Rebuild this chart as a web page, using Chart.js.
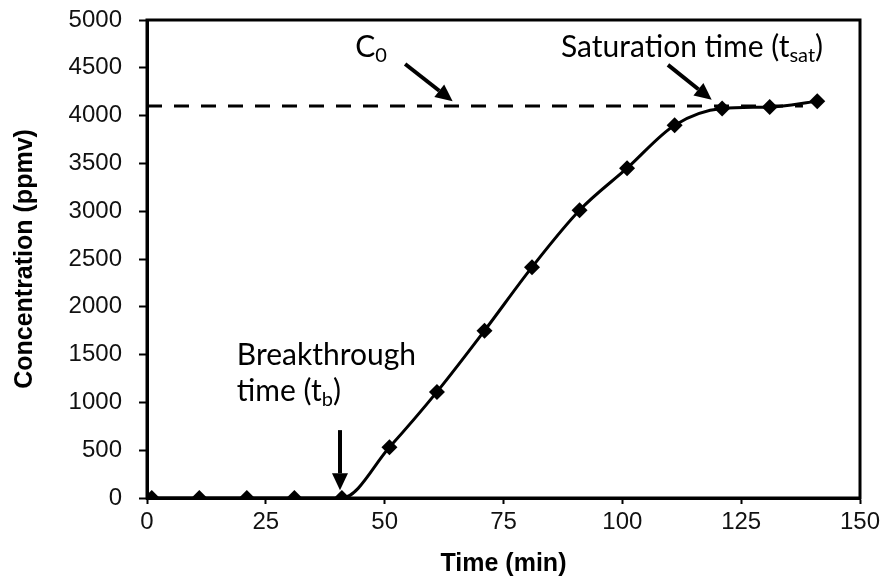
<!DOCTYPE html>
<html>
<head>
<meta charset="utf-8">
<script src="https://cdn.jsdelivr.net/npm/chart.js@4.4.1/dist/chart.umd.min.js"></script>
<style>
  body { margin: 0; background: #fff; }
  #wrap { width: 886px; height: 581px; }
</style>
</head>
<body>
<div id="wrap"><canvas id="myChart" width="886" height="581"></canvas></div>
<script>
// datos
const tiempo = [1, 11, 21, 31, 41, 51, 61, 71, 81, 91, 101, 111, 121, 131, 141];
const concentracion = [0, 0, 0, 0, 0, 530, 1110, 1750, 2415, 3010, 3450, 3900, 4075, 4090, 4150];
const c0Valor = 4100;
const c0Tiempo = [0, 138];
const xTicks = [0, 25, 50, 75, 100, 125, 150];
const yTicks = [0, 500, 1000, 1500, 2000, 2500, 3000, 3500, 4000, 4500, 5000];

const fuenteTexto = "Lato, 'Open Sans', sans-serif";
const fuenteEjes = "'Liberation Sans', Arial, sans-serif";

// dibuja flecha entre dos puntos en unidades de datos
const flecha = (ctx, sx, sy, x1, y1, x2, y2) => {
    const ax = sx.getPixelForValue(x1), ay = sy.getPixelForValue(y1);
    const bx = sx.getPixelForValue(x2), by = sy.getPixelForValue(y2);
    const ang = Math.atan2(by - ay, bx - ax);
    const largo = 17, ancho = 8;
    const hx = bx - Math.cos(ang) * largo, hy = by - Math.sin(ang) * largo;
    ctx.save();
    ctx.strokeStyle = "#000";
    ctx.fillStyle = "#000";
    ctx.lineWidth = 4;
    ctx.beginPath();
    ctx.moveTo(ax, ay);
    ctx.lineTo(hx, hy);
    ctx.stroke();
    ctx.beginPath();
    ctx.moveTo(bx, by);
    ctx.lineTo(hx + Math.sin(ang) * ancho, hy - Math.cos(ang) * ancho);
    ctx.lineTo(hx - Math.sin(ang) * ancho, hy + Math.cos(ang) * ancho);
    ctx.closePath();
    ctx.fill();
    ctx.restore();
}

// texto con subindice
const textoSub = (ctx, sx, sy, x, y, partes) => {
    let px = sx.getPixelForValue(x);
    const py = sy.getPixelForValue(y);
    ctx.save();
    ctx.fillStyle = "#000";
    ctx.textBaseline = "alphabetic";
    ctx.textAlign = "left";
    partes.forEach(p => {
        const tam = p.sub ? 20 : 30;
        ctx.font = `${tam}px ${fuenteTexto}`;
        ctx.fillText(p.t, px, p.sub ? py + 5 : py);
        px += ctx.measureText(p.t).width;
    });
    ctx.restore();
}

const anotaciones = {
    id: "anotaciones",
    afterDatasetsDraw(chart) {
        const ctx = chart.ctx;
        const sx = chart.scales.x, sy = chart.scales.y;
        textoSub(ctx, sx, sy, 43.8, 4613, [{t: "C"}, {t: "0", sub: true}]);
        flecha(ctx, sx, sy, 54.3, 4540, 64.3, 4150);
        textoSub(ctx, sx, sy, 87.1, 4613, [{t: "Saturation time (t"}, {t: "sat", sub: true}, {t: ")"}]);
        flecha(ctx, sx, sy, 109.6, 4530, 118.8, 4165);
        textoSub(ctx, sx, sy, 18.9, 1391, [{t: "Breakthrough"}]);
        textoSub(ctx, sx, sy, 18.9, 1015, [{t: "time (t"}, {t: "b", sub: true}, {t: ")"}]);
        flecha(ctx, sx, sy, 40.6, 710, 40.6, 80);
    },
    afterDraw(chart) {
        const a = chart.chartArea;
        const ctx = chart.ctx;
        ctx.save();
        ctx.strokeStyle = "#000";
        ctx.lineWidth = 3;
        ctx.strokeRect(a.left, a.top, a.right - a.left, a.bottom - a.top);
        ctx.restore();
    }
};

const config = {
    type: "line",
    data: {
        datasets: [
        {
            label: "C0",
            data: c0Tiempo.map(t => ({ x: t, y: c0Valor })),
            borderColor: "#000",
            borderWidth: 3,
            borderDash: [15, 12],
            pointRadius: 0
        },
        {
            label: "Concentration",
            data: tiempo.map((t, i) => ({ x: t, y: concentracion[i] })),
            borderColor: "#000",
            borderWidth: 3,
            backgroundColor: "#000",
            pointStyle: "rectRot",
            pointRadius: 8,
            pointBorderWidth: 0,
            cubicInterpolationMode: "monotone"
        }]
    },
    options: {
        responsive: false,
        animation: false,
        layout: { padding: { top: 20, right: 26, left: 0, bottom: 0 } },
        plugins: { legend: { display: false }, tooltip: { enabled: false } },
        scales: {
            x: {
                type: "linear",
                min: 0,
                max: 150,
                border: { display: true, color: "#000", width: 3 },
                grid: { drawOnChartArea: false, drawTicks: true, tickLength: 6, tickColor: "#000", tickWidth: 2 },
                afterBuildTicks: (s) => { s.ticks = xTicks.map(v => ({ value: v })); },
                afterFit: (s) => { s.height = 83; s.paddingLeft = 0; s.paddingRight = 0; },
                ticks: {
                    color: "#111",
                    font: { family: fuenteEjes, size: 24 },
                    padding: 4,
                    maxRotation: 0,
                    callback: (v) => String(v)
                },
                title: {
                    display: true,
                    text: "Time (min)",
                    color: "#000",
                    font: { family: fuenteEjes, size: 25, weight: "bold" },
                    padding: { top: 0, bottom: 2 }
                }
            },
            y: {
                min: 0,
                max: 5000,
                border: { display: true, color: "#000", width: 3 },
                grid: { drawOnChartArea: false, drawTicks: true, tickLength: 8, tickColor: "#000", tickWidth: 2 },
                afterBuildTicks: (s) => { s.ticks = yTicks.map(v => ({ value: v })); },
                afterFit: (s) => { s.width = 147; s.paddingTop = 0; s.paddingBottom = 0; },
                ticks: {
                    color: "#111",
                    font: { family: fuenteEjes, size: 24 },
                    padding: 17,
                    callback: (v) => String(v)
                },
                title: {
                    display: true,
                    text: "Concentration (ppmv)",
                    color: "#000",
                    font: { family: fuenteEjes, size: 25, weight: "bold" },
                    padding: { top: 10, bottom: 0 }
                }
            }
        }
    },
    plugins: [anotaciones]
};

const grafico = new Chart(document.getElementById("myChart"), config);
</script>
</body>
</html>
